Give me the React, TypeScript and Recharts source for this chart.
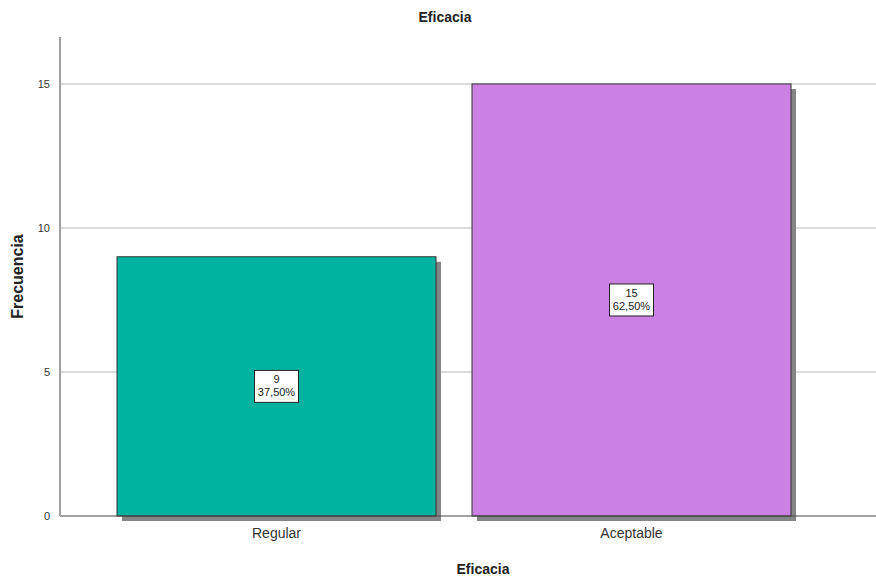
import { BarChart, Bar, XAxis, YAxis, CartesianGrid, LabelList, Label } from "recharts";

const categories = ["Regular", "Aceptable"];
const frecuencias = [9, 15];
const porcentajes = ["37,50%", "62,50%"];
const yTicks = [0, 5, 10, 15];

const colores = ["#00b3a0", "#cb80e4"];

const data = categories.map((c, i) => ({
  categoria: c,
  frecuencia: frecuencias[i],
  porcentaje: porcentajes[i],
  color: colores[i],
}));

const FONT = "'Liberation Sans', Arial, sans-serif";

function ShadowBar(props: any) {
  const { x, y, width, height, payload } = props;
  return (
    <g>
      <rect x={x + 5} y={y + 5} width={width} height={height} fill="#858585" />
      <rect x={x} y={y} width={width} height={height} fill={payload.color} stroke="#333" strokeWidth={1} />
    </g>
  );
}

function BoxLabel(props: any) {
  const { x, y, width, height, index } = props;
  const cx = x + width / 2;
  const cy = y + height / 2;
  const text1 = String(frecuencias[index]);
  const text2 = porcentajes[index];
  return (
    <g>
      <rect x={cx - 22} y={cy - 16} width={44} height={32} fill="#fff" stroke="#222" strokeWidth={1} />
      <text x={cx} y={cy - 3} textAnchor="middle" fontSize={11} fontFamily={FONT} fill="#222">
        {text1}
      </text>
      <text x={cx} y={cy + 10} textAnchor="middle" fontSize={11} fontFamily={FONT} fill="#222">
        {text2}
      </text>
    </g>
  );
}

export default function App() {
  return (
    <div style={{ width: 876, height: 582, position: "relative", background: "#fff" }}>
      <style>{`body{margin:0}`}</style>
      <div
        style={{
          position: "absolute",
          top: 9,
          left: 0,
          width: 876,
          textAlign: "center",
          fontFamily: FONT,
          fontWeight: "bold",
          fontSize: 14,
          color: "#222",
          paddingLeft: 14,
          boxSizing: "border-box",
        }}
      >
        Eficacia
      </div>
      <BarChart
        width={876}
        height={582}
        data={data}
        margin={{ top: 37, right: 0, left: 0, bottom: 36 }}
        barSize={319}
      >
        <CartesianGrid vertical={false} horizontalValues={[5, 10, 15]} stroke="#cfcfcf" strokeWidth={1.5} />
        <XAxis
          dataKey="categoria"
          height={30}
          padding={{ left: 39, right: 67 }}
          tickLine={false}
          axisLine={{ stroke: "#444" }}
          tick={{ fill: "#333", fontSize: 14, fontFamily: FONT }}
          tickMargin={6}
        >
          <Label
            value="Eficacia"
            position="insideBottom"
            offset={-28}
            dx={15}
            style={{ fontFamily: FONT, fontWeight: "bold", fontSize: 14, fill: "#222" }}
          />
        </XAxis>
        <YAxis
          width={60}
          domain={[0, 16.63]}
          ticks={yTicks}
          tickLine={false}
          axisLine={{ stroke: "#a0a0a0", strokeWidth: 2 }}
          tick={{ fill: "#333", fontSize: 11, fontFamily: FONT }}
          tickMargin={4}
        >
          <Label
            value="Frecuencia"
            angle={-90}
            position="insideLeft"
            offset={17}
            style={{ fontFamily: FONT, fontWeight: "bold", fontSize: 16, fill: "#222", textAnchor: "middle" }}
          />
        </YAxis>
        <Bar dataKey="frecuencia" shape={<ShadowBar />} isAnimationActive={false}>
          <LabelList dataKey="frecuencia" content={<BoxLabel />} />
        </Bar>
      </BarChart>
    </div>
  );
}
